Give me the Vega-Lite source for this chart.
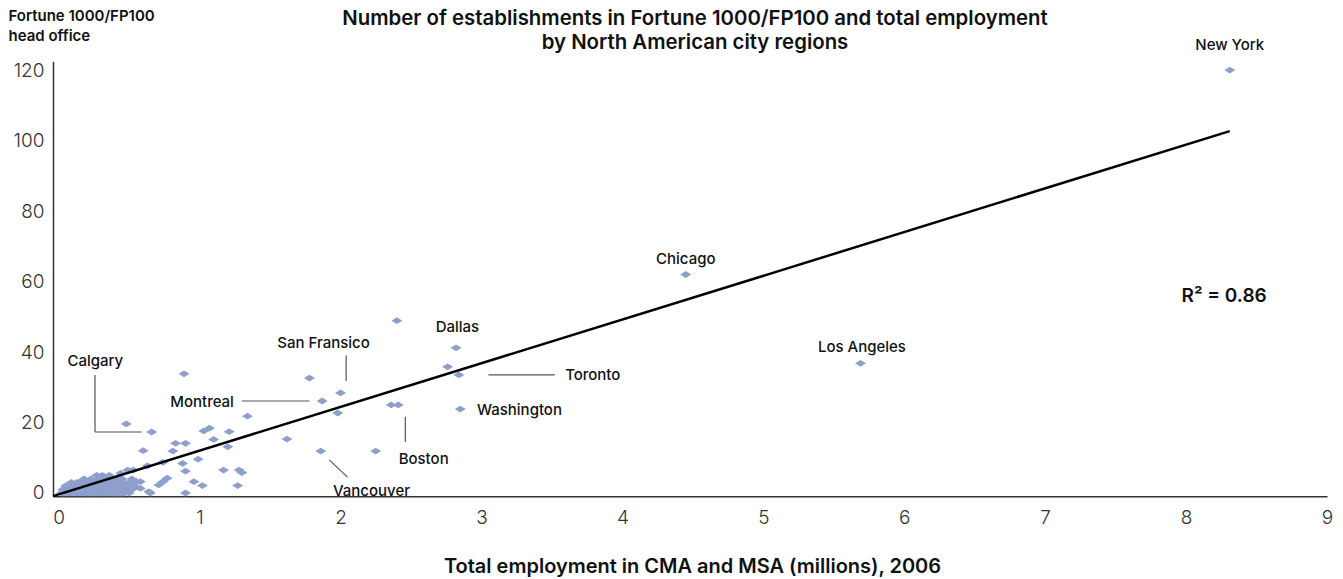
{
  "$schema": "https://vega.github.io/schema/vega-lite/v6.json",
  "width": 1274,
  "height": 435,
  "autosize": {"type": "none"},
  "padding": {"left": 53, "top": 61.3, "right": 16, "bottom": 83},
  "background": "white",
  "config": {"view": {"stroke": null}, "font": "Inter"},
  "title": {
    "text": ["Number of establishments in Fortune 1000/FP100 and total employment", "by North American city regions"],
    "fontSize": 20.4,
    "fontWeight": 600,
    "font": "Inter",
    "color": "#111111",
    "anchor": "middle",
    "offset": 10,
    "lineHeight": 24,
    "dx": 5,
    "dy": 54
  },
  "datasets": {
    "points": [
      {"x": 8.31, "y": 120}, {"x": 4.45, "y": 62}, {"x": 5.69, "y": 36.8}, {"x": 2.82, "y": 41.2},
      {"x": 2.84, "y": 33.5}, {"x": 2.85, "y": 23.8}, {"x": 2.36, "y": 25}, {"x": 2.41, "y": 25},
      {"x": 2.0, "y": 28.4}, {"x": 1.87, "y": 26.1}, {"x": 1.86, "y": 11.9}, {"x": 0.66, "y": 17.3},
      {"x": 2.40, "y": 48.9}, {"x": 1.78, "y": 32.6}, {"x": 2.76, "y": 35.8}, {"x": 1.98, "y": 22.7},
      {"x": 2.25, "y": 11.9}, {"x": 1.62, "y": 15.3}, {"x": 1.34, "y": 21.8}, {"x": 0.89, "y": 33.8},
      {"x": 0.48, "y": 19.6}, {"x": 1.03, "y": 17.6}, {"x": 1.07, "y": 18.4}, {"x": 1.21, "y": 17.4},
      {"x": 1.10, "y": 15.2}, {"x": 1.20, "y": 13.1}, {"x": 0.83, "y": 14.1}, {"x": 0.90, "y": 14.1},
      {"x": 0.60, "y": 12.0}, {"x": 0.81, "y": 11.9}, {"x": 0.99, "y": 9.6}, {"x": 0.74, "y": 8.7},
      {"x": 0.63, "y": 7.7}, {"x": 0.88, "y": 8.4}, {"x": 0.90, "y": 6.2}, {"x": 1.17, "y": 6.5},
      {"x": 1.28, "y": 6.5}, {"x": 1.30, "y": 5.8}, {"x": 0.96, "y": 3.2}, {"x": 1.02, "y": 2.1},
      {"x": 0.77, "y": 4.2}, {"x": 0.74, "y": 3.2}, {"x": 0.71, "y": 2.3}, {"x": 1.27, "y": 2.1},
      {"x": 0.65, "y": 0}, {"x": 0.90, "y": 0}, {"x": 0.58, "y": 3.2}, {"x": 0.55, "y": 3.2},
      {"x": 0.49, "y": 6.5}, {"x": 0.44, "y": 5.6}, {"x": 0.53, "y": 6.5}, {"x": 0.64, "y": 0.4},
      {"x": 0.58, "y": 1.3},
      {"x": 0.02, "y": 0}, {"x": 0.05, "y": 0}, {"x": 0.08, "y": 0}, {"x": 0.11, "y": 0}, {"x": 0.14, "y": 0},
      {"x": 0.17, "y": 0}, {"x": 0.2, "y": 0}, {"x": 0.23, "y": 0}, {"x": 0.26, "y": 0}, {"x": 0.29, "y": 0},
      {"x": 0.32, "y": 0}, {"x": 0.35, "y": 0}, {"x": 0.38, "y": 0}, {"x": 0.41, "y": 0}, {"x": 0.44, "y": 0},
      {"x": 0.47, "y": 0}, {"x": 0.5, "y": 0},
      {"x": 0.035, "y": 0}, {"x": 0.065, "y": 0}, {"x": 0.095, "y": 0}, {"x": 0.125, "y": 0}, {"x": 0.155, "y": 0},
      {"x": 0.185, "y": 0}, {"x": 0.215, "y": 0}, {"x": 0.245, "y": 0}, {"x": 0.275, "y": 0}, {"x": 0.305, "y": 0},
      {"x": 0.335, "y": 0}, {"x": 0.365, "y": 0}, {"x": 0.395, "y": 0}, {"x": 0.425, "y": 0}, {"x": 0.455, "y": 0},
      {"x": 0.03, "y": 1}, {"x": 0.06, "y": 1}, {"x": 0.09, "y": 1}, {"x": 0.12, "y": 1}, {"x": 0.15, "y": 1},
      {"x": 0.18, "y": 1}, {"x": 0.21, "y": 1}, {"x": 0.24, "y": 1}, {"x": 0.27, "y": 1}, {"x": 0.3, "y": 1},
      {"x": 0.33, "y": 1}, {"x": 0.36, "y": 1}, {"x": 0.39, "y": 1}, {"x": 0.42, "y": 1}, {"x": 0.45, "y": 1},
      {"x": 0.48, "y": 1}, {"x": 0.52, "y": 1},
      {"x": 0.045, "y": 1}, {"x": 0.075, "y": 1}, {"x": 0.105, "y": 1}, {"x": 0.135, "y": 1}, {"x": 0.165, "y": 1},
      {"x": 0.195, "y": 1}, {"x": 0.225, "y": 1}, {"x": 0.255, "y": 1}, {"x": 0.285, "y": 1}, {"x": 0.315, "y": 1},
      {"x": 0.345, "y": 1}, {"x": 0.375, "y": 1}, {"x": 0.405, "y": 1}, {"x": 0.435, "y": 1}, {"x": 0.465, "y": 1},
      {"x": 0.05, "y": 2}, {"x": 0.08, "y": 2}, {"x": 0.11, "y": 2}, {"x": 0.14, "y": 2}, {"x": 0.17, "y": 2},
      {"x": 0.2, "y": 2}, {"x": 0.23, "y": 2}, {"x": 0.26, "y": 2}, {"x": 0.29, "y": 2}, {"x": 0.32, "y": 2},
      {"x": 0.35, "y": 2}, {"x": 0.38, "y": 2}, {"x": 0.41, "y": 2}, {"x": 0.44, "y": 2}, {"x": 0.47, "y": 2},
      {"x": 0.5, "y": 2}, {"x": 0.54, "y": 2},
      {"x": 0.095, "y": 2}, {"x": 0.125, "y": 2}, {"x": 0.155, "y": 2}, {"x": 0.185, "y": 2}, {"x": 0.215, "y": 2},
      {"x": 0.245, "y": 2}, {"x": 0.275, "y": 2}, {"x": 0.305, "y": 2}, {"x": 0.335, "y": 2}, {"x": 0.365, "y": 2},
      {"x": 0.395, "y": 2}, {"x": 0.425, "y": 2}, {"x": 0.455, "y": 2},
      {"x": 0.09, "y": 3}, {"x": 0.13, "y": 3}, {"x": 0.16, "y": 3}, {"x": 0.2, "y": 3}, {"x": 0.24, "y": 3},
      {"x": 0.27, "y": 3}, {"x": 0.31, "y": 3}, {"x": 0.35, "y": 3}, {"x": 0.38, "y": 3}, {"x": 0.42, "y": 3},
      {"x": 0.46, "y": 3}, {"x": 0.5, "y": 3},
      {"x": 0.145, "y": 3}, {"x": 0.18, "y": 3}, {"x": 0.22, "y": 3}, {"x": 0.29, "y": 3}, {"x": 0.33, "y": 3},
      {"x": 0.4, "y": 3}, {"x": 0.44, "y": 3},
      {"x": 0.18, "y": 4}, {"x": 0.23, "y": 4}, {"x": 0.28, "y": 4}, {"x": 0.33, "y": 4}, {"x": 0.37, "y": 4},
      {"x": 0.41, "y": 4}, {"x": 0.45, "y": 4}, {"x": 0.52, "y": 4},
      {"x": 0.27, "y": 5}, {"x": 0.31, "y": 5}, {"x": 0.36, "y": 5}
    ],
    "fit": [{"x": -0.04, "y": -0.9}, {"x": 8.31, "y": 102.7}],
    "leaders": [
      {"x": 0.258, "y": 33.5, "x2": 0.258, "y2": 17.3},
      {"x": 0.258, "y": 17.3, "x2": 0.59, "y2": 17.3},
      {"x": 1.30, "y": 26.1, "x2": 1.78, "y2": 26.1},
      {"x": 2.04, "y": 39.0, "x2": 2.04, "y2": 31.8},
      {"x": 3.05, "y": 33.5, "x2": 3.52, "y2": 33.5},
      {"x": 2.46, "y": 21.6, "x2": 2.46, "y2": 14.5},
      {"x": 1.92, "y": 9.4, "x2": 2.05, "y2": 4.5}
    ],
    "labels": [
      {"label": "New York", "x": 8.31, "y": 127.1},
      {"label": "Chicago", "x": 4.45, "y": 66.4},
      {"label": "Los Angeles", "x": 5.70, "y": 41.4},
      {"label": "Dallas", "x": 2.83, "y": 47.1},
      {"label": "San Fransico", "x": 1.88, "y": 42.6},
      {"label": "Calgary", "x": 0.26, "y": 37.4},
      {"label": "Montreal", "x": 1.018, "y": 25.8},
      {"label": "Toronto", "x": 3.79, "y": 33.5},
      {"label": "Washington", "x": 3.27, "y": 23.5},
      {"label": "Boston", "x": 2.59, "y": 9.6},
      {"label": "Vancouver", "x": 2.22, "y": 0.6}
    ],
    "rsq": [{"label": "R² = 0.86", "x": 8.27, "y": 55.9}]
  },
  "encoding": {
    "x": {
      "field": "x",
      "type": "quantitative",
      "scale": {"domain": [-0.04, 9], "nice": false, "zero": false},
      "axis": {
        "title": "Total employment in CMA and MSA (millions), 2006",
        "values": [0, 1, 2, 3, 4, 5, 6, 7, 8, 9],
        "ticks": false,
        "grid": false,
        "domainColor": "#333333",
        "domainWidth": 1.5,
        "labelFont": "Inter",
        "labelFontWeight": 300,
        "labelFontSize": 19,
        "labelColor": "#333333",
        "labelPadding": 12,
        "labelFlush": false,
        "labelOverlap": false,
        "titleFont": "Inter",
        "titleFontSize": 20,
        "titleFontWeight": 600,
        "titleColor": "#111111",
        "titleY": 76,
        "titleX": 639,
        "titleBaseline": "alphabetic"
      }
    },
    "y": {
      "field": "y",
      "type": "quantitative",
      "scale": {"domain": [-0.94, 122.5], "nice": false, "zero": false},
      "axis": {
        "title": ["Fortune 1000/FP100", "head office"],
        "values": [0, 20, 40, 60, 80, 100, 120],
        "ticks": false,
        "grid": false,
        "domainColor": "#333333",
        "domainWidth": 1.5,
        "labelFont": "Inter",
        "labelFontWeight": 300,
        "labelFontSize": 19,
        "labelColor": "#333333",
        "labelPadding": 9,
        "labelFlush": false,
        "labelOverlap": false,
        "titleAngle": 0,
        "titleAlign": "left",
        "titleX": -45,
        "titleY": -40.3,
        "titleBaseline": "alphabetic",
        "titleFont": "Inter",
        "titleFontSize": 15,
        "titleFontWeight": 600,
        "titleColor": "#111111",
        "titleLineHeight": 20
      }
    }
  },
  "layer": [
    {
      "data": {"name": "points"},
      "mark": {"type": "point", "shape": "M-1,0L0,-0.62L1,0L0,0.62Z", "filled": true, "color": "#8e9fcc", "opacity": 1, "size": 121}
    },
    {
      "data": {"name": "fit"},
      "mark": {"type": "line", "color": "#000000", "strokeWidth": 2.5}
    },
    {
      "data": {"name": "leaders"},
      "mark": {"type": "rule", "color": "#555555", "strokeWidth": 1.2},
      "encoding": {"x2": {"field": "x2"}, "y2": {"field": "y2"}}
    },
    {
      "data": {"name": "labels"},
      "mark": {"type": "text", "font": "Inter", "fontWeight": 500, "fontSize": 15, "color": "#111111", "align": "center", "baseline": "middle"},
      "encoding": {"text": {"field": "label"}}
    },
    {
      "data": {"name": "rsq"},
      "mark": {"type": "text", "font": "Inter", "fontSize": 19, "fontWeight": 600, "color": "#111111", "align": "center", "baseline": "middle"},
      "encoding": {"text": {"field": "label"}}
    }
  ]
}
